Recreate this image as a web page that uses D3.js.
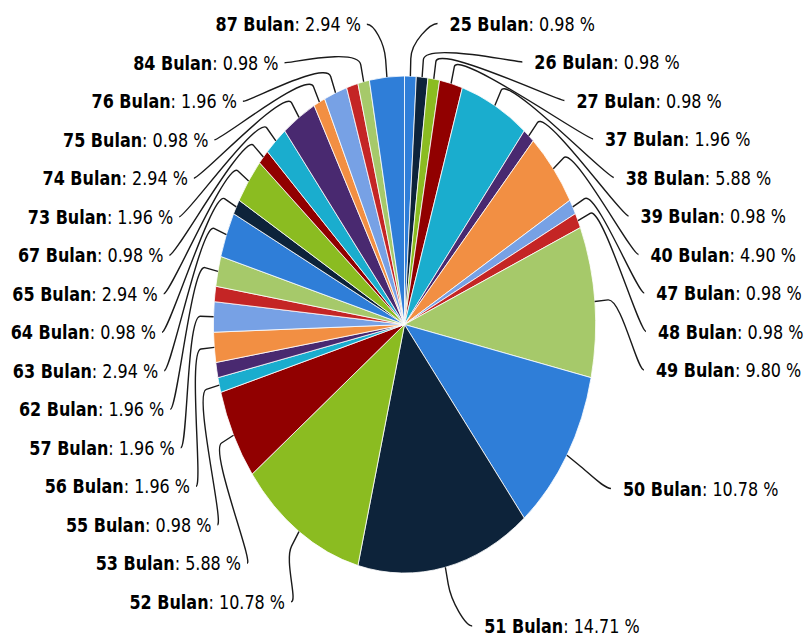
<!DOCTYPE html>
<html>
<head>
<meta charset="utf-8">
<script src="https://cdn.jsdelivr.net/npm/d3@7"></script>
<style>
  html, body { margin: 0; padding: 0; background: #fff; }
  .pie_label { font-family: "DejaVu Sans", Verdana, sans-serif; font-size: 16px; fill: #000; }
  .pie_connector { fill: none; stroke: #1a1a1a; stroke-width: 1.4; }
</style>
</head>
<body>
<div id="pie_chart"></div>
<script>
// slices clockwise from 12 o'clock
// null = slice whose label was hidden in the original (overlap)
const categories = [
  "25 Bulan", "26 Bulan", "27 Bulan", "37 Bulan", "38 Bulan", "39 Bulan", "40 Bulan",
  "47 Bulan", "48 Bulan", "49 Bulan", "50 Bulan", "51 Bulan", "52 Bulan", "53 Bulan",
  "55 Bulan", null, "56 Bulan", "57 Bulan", null, "62 Bulan", "63 Bulan", "64 Bulan",
  "65 Bulan", "67 Bulan", "73 Bulan", "74 Bulan", "75 Bulan", "76 Bulan", null,
  "84 Bulan", "87 Bulan"
]
const values = [
  0.98, 0.98, 0.98, 1.96, 5.88, 0.98, 4.90,
  0.98, 0.98, 9.80, 10.78, 14.71, 10.78, 5.88,
  0.98, 0.98, 1.96, 1.96, 0.98, 1.96, 2.94, 0.98,
  2.94, 0.98, 1.96, 2.94, 0.98, 1.96, 0.98,
  0.98, 2.94
]
const colors = ["#2f7ed8", "#0d233a", "#8bbc21", "#910000", "#1aadce",
                "#492970", "#f28f43", "#77a1e5", "#c42525", "#a6c96a"]

;(() => {

  let width = 805
  let height = 639

  let svg = d3.select("#pie_chart")
  .append("svg")
  .attr("width", width)
  .attr("height", height)

  // pie is an ellipse (the original picture was stretched)
  let cx = 404.5, cy = 324.5, rx = 191, ry = 248.5

  let data = values.map((v, i) => ({name: categories[i], value: v, i: i}))

  let pie = d3.pie()
  .sort(null)
  .value(d => d.value)

  let arcs = pie(data)

  let arc = d3.arc()
  .innerRadius(0)
  .outerRadius(1)

  let g = svg.append("g")
  .attr("transform", "translate(" + cx + "," + cy + ") scale(" + rx + "," + ry + ")")

  g.selectAll(".slice")
  .data(arcs)
  .enter()
  .append("path")
  .attr("class", "slice")
  .attr("d", arc)
  .attr("fill", d => colors[d.data.i % colors.length])
  .attr("stroke", "#fff")
  .attr("stroke-width", 0.8)
  .attr("vector-effect", "non-scaling-stroke")

  // --- labels ---
  let step = 38.5, minY = 23.5
  let natCy = 328, natRy = 305          // where a label would like to sit
  let lx = 407, lcy = 330, lRx = 251, lRy = 311   // curve the labels follow
  let labelX = y => lRx * Math.sqrt(Math.max(0, 1 - Math.pow((y - lcy) / lRy, 2)))

  let labelled = arcs
  .filter(d => d.data.name !== null)
  .map(d => {
    let mid = (d.startAngle + d.endAngle) / 2
    return {d: d, mid: mid, side: mid < Math.PI ? 1 : -1, y: natCy - natRy * Math.cos(mid)}
  })

  ;[1, -1].forEach(side => {
    let list = labelled.filter(l => l.side === side).sort((a, b) => a.y - b.y)
    let prev = minY - step
    list.forEach(l => {
      l.y = Math.max(l.y, prev + step)
      prev = l.y
    })
  })

  labelled.forEach(l => {
    let f = labelX(l.y)
    l.tx = lx + l.side * f
    let gap = l.side === 1 ? 12 : 6
    let base = [cx + rx * Math.sin(l.mid), cy - ry * Math.cos(l.mid)]
    let brk = [cx + rx * 1.07 * Math.sin(l.mid), cy - ry * 1.07 * Math.cos(l.mid)]
    let p0 = [l.tx - l.side * gap, l.y]
    let p = d3.path()
    p.moveTo(p0[0], p0[1])
    p.bezierCurveTo(p0[0] - l.side * 7, p0[1], 2 * brk[0] - base[0], 2 * brk[1] - base[1], brk[0], brk[1])
    p.lineTo(base[0], base[1])
    l.path = p.toString()
  })

  svg.selectAll(".pie_connector")
  .data(labelled)
  .enter()
  .append("path")
  .attr("class", "pie_connector")
  .attr("d", l => l.path)

  let texts = svg.selectAll(".pie_label")
  .data(labelled)
  .enter()
  .append("text")
  .attr("class", "pie_label")
  .attr("transform", l => "translate(" + l.tx + "," + (l.y + 7) + ") scale(1,1.2)")
  .style("text-anchor", l => l.side === 1 ? "start" : "end")

  texts.append("tspan")
  .style("font-weight", "bold")
  .text(l => l.d.data.name)

  texts.append("tspan")
  .text(l => ": " + l.d.data.value.toFixed(2) + " %")

})()
</script>
</body>
</html>
